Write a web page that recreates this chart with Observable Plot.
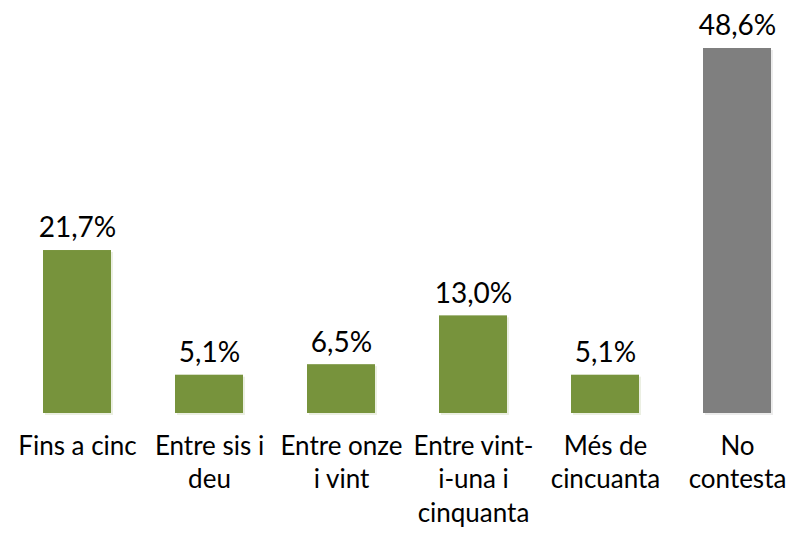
<!DOCTYPE html>
<html>
<head>
<meta charset="utf-8">
<script src="https://cdn.jsdelivr.net/npm/d3@7"></script>
<script src="https://cdn.jsdelivr.net/npm/@observablehq/plot@0.6"></script>
<style>
  html, body { margin: 0; padding: 0; background: #fff; }
  svg { font-family: Lato, sans-serif; }
</style>
</head>
<body>
<div id="chart"></div>
<script>
const categories = ["Fins a cinc", "Entre sis i\ndeu", "Entre onze\ni vint", "Entre vint-\ni-una i\ncinquanta", "Més de\ncincuanta", "No\ncontesta"];
const values = [21.7, 5.1, 6.5, 13.0, 5.1, 48.6];
const valueLabels = ["21,7%", "5,1%", "6,5%", "13,0%", "5,1%", "48,6%"];
const groups = ["resp", "resp", "resp", "resp", "resp", "nc"];

const data = categories.map((c, i) => ({cat: c, value: values[i], label: valueLabels[i], group: groups[i]}));

const chart = Plot.plot({
  width: 790,
  height: 533,
  marginTop: 48,
  marginBottom: 120,
  marginLeft: 10,
  marginRight: 0,
  x: {domain: categories, range: [10, 803], paddingInner: 0.485, paddingOuter: 0.2425, align: 0.5},
  y: {domain: [0, 48.6], axis: null},
  color: {domain: ["resp", "nc"], range: ["#77933C", "#7F7F7F"]},
  style: {fontFamily: "Lato, sans-serif", background: "white"},
  marks: [
    Plot.barY(data, {x: "cat", y: "value", fill: "group", dx: 2, dy: 2, fillOpacity: 0.15}),
    Plot.barY(data, {x: "cat", y: "value", fill: "group"}),
    Plot.text(data, {x: "cat", y: "value", text: "label", dy: -22, fontSize: 28, fill: "black", textAnchor: "middle"}),
    Plot.axisX({tickSize: 0, tickPadding: 18, fontSize: 26, lineHeight: 1.28, label: null, color: "black"})
  ]
});
document.getElementById("chart").appendChild(chart);
</script>
</body>
</html>
